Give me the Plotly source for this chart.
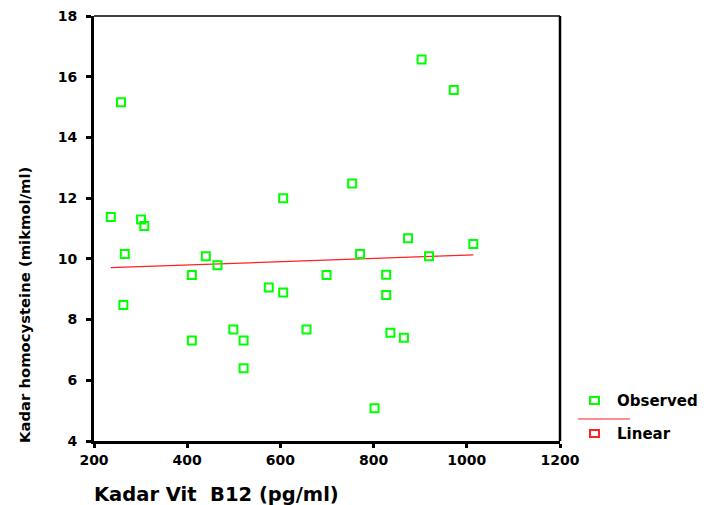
import plotly.graph_objects as go

# Data
vit_b12 = [236, 258, 301, 308, 266, 263, 410, 440, 465, 410, 499, 521, 521,
           575, 606, 606, 656, 699, 754, 771, 827, 827, 836, 865, 874, 802,
           903, 972, 919, 1014]
homocysteine = [11.38, 15.16, 11.30, 11.08, 10.16, 8.48, 9.47, 10.09, 9.79, 7.31,
                7.67, 7.31, 6.40, 9.06, 8.89, 12.00, 7.67, 9.47, 12.48, 10.16,
                9.48, 8.81, 7.57, 7.40, 10.68, 5.08, 16.57, 15.56, 10.09, 10.49]
linear_x = [236, 1014]
linear_y = [9.71, 10.13]

x_ticks = [200, 400, 600, 800, 1000, 1200]
y_ticks = [4, 6, 8, 10, 12, 14, 16, 18]

OFF = 8  # default page body margin
W, H = 714 - OFF, 505 - OFF
L, R, T, B = 94, 560, 16, 441

def px(x):
    return (x - L) / (R - L)

def py(y):
    return (B - y) / (B - T)

fig = go.Figure()
fig.add_trace(go.Scatter(x=linear_x, y=linear_y, mode="lines",
                         line=dict(color="#ff2020", width=1.2), showlegend=False))
fig.add_trace(go.Scatter(x=vit_b12, y=homocysteine, mode="markers",
                         marker=dict(symbol="square-open", size=8, color="#00ff00",
                                     line=dict(width=2, color="#00ff00")),
                         showlegend=False))

tickfont = dict(family="DejaVu Sans", size=14, color="black", weight="bold")

fig.update_xaxes(range=[200, 1200], tickvals=x_ticks, showline=True, linewidth=3,
                 linecolor="black", ticks="outside", ticklen=4, tickwidth=3,
                 tickcolor="black", showgrid=False, zeroline=False, tickfont=tickfont,
                 ticklabeloverflow="allow", automargin=False)
fig.update_yaxes(range=[4, 18], tickvals=y_ticks, showline=True, linewidth=3,
                 linecolor="black", ticks="outside", ticklen=5, tickwidth=3,
                 tickcolor="black", showgrid=False, zeroline=False, tickfont=tickfont,
                 ticklabelstandoff=6, ticklabeloverflow="allow", automargin=False)

shapes = [
    dict(type="line", xref="paper", yref="paper", x0=0, x1=1, y0=1, y1=1,
         line=dict(color="black", width=1.5)),
    dict(type="line", xref="paper", yref="paper", x0=1, x1=1, y0=0, y1=1,
         line=dict(color="black", width=2.5)),
    # legend items
    dict(type="rect", xref="paper", yref="paper", x0=px(590), x1=px(599),
         y0=py(404), y1=py(397), line=dict(color="#00ff00", width=2)),
    dict(type="line", xref="paper", yref="paper", x0=px(578), x1=px(630),
         y0=py(419), y1=py(419), line=dict(color="#ff2020", width=1.2)),
    dict(type="rect", xref="paper", yref="paper", x0=px(590), x1=px(599),
         y0=py(437), y1=py(430), line=dict(color="#ff2020", width=2)),
]

legfont = dict(family="DejaVu Sans", size=15, color="black", weight="bold")
annotations = [
    dict(text="Observed", xref="paper", yref="paper", x=px(615), y=py(401),
         xanchor="left", yanchor="middle", showarrow=False, font=legfont),
    dict(text="Linear", xref="paper", yref="paper", x=px(615), y=py(434),
         xanchor="left", yanchor="middle", showarrow=False, font=legfont),
    dict(text="Kadar Vit  B12 (pg/ml)", xref="paper", yref="paper", x=px(92), y=py(495),
         xanchor="left", yanchor="middle", showarrow=False,
         font=dict(family="DejaVu Sans", size=19.5, color="black", weight="bold")),
    dict(text="Kadar homocysteine (mikmol/ml)", xref="paper", yref="paper",
         x=px(24), y=py(305), xanchor="center", yanchor="middle", textangle=-90,
         showarrow=False,
         font=dict(family="DejaVu Sans", size=14.8, color="black", weight="bold")),
]

fig.update_layout(width=W, height=H,
                  margin=dict(l=L - OFF, r=714 - R, t=T - OFF, b=505 - B),
                  plot_bgcolor="white", paper_bgcolor="white",
                  shapes=shapes, annotations=annotations, showlegend=False)

fig.write_html("out.html")
